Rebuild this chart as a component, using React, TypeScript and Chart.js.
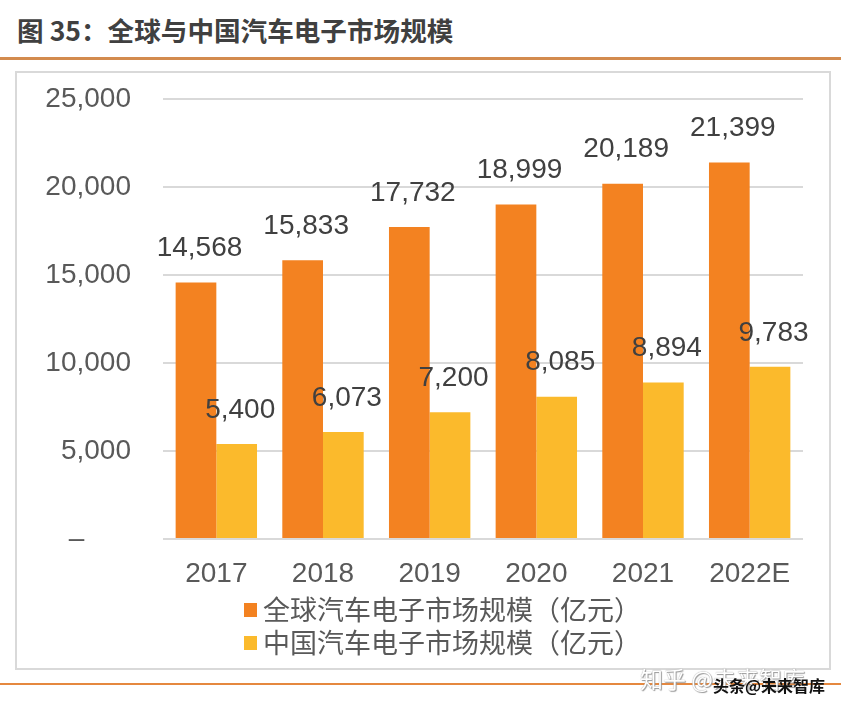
import React, { useEffect, useRef } from "react";
import { Chart, registerables } from "chart.js";

Chart.register(...registerables);

const categories = ["2017", "2018", "2019", "2020", "2021", "2022E"];
const globalValues = [14568, 15833, 17732, 18999, 20189, 21399];
const chinaValues = [5400, 6073, 7200, 8085, 8894, 9783];
const seriesNames = ["全球汽车电子市场规模（亿元）", "中国汽车电子市场规模（亿元）"];
const yTicks = [0, 5000, 10000, 15000, 20000, 25000];
const titleText = "图 35：全球与中国汽车电子市场规模";
const colors = ["#F38221", "#FBBA2C"];

const NUM_FONT = "'Liberation Sans', Arial, sans-serif";
const CJK_FONT = "'Noto Sans CJK SC', 'Noto Sans', sans-serif";

const fmt = (v: number) => v.toLocaleString("en-US");

const valueLabels = {
  id: "valueLabels",
  afterDatasetsDraw(chart: any) {
    const ctx = chart.ctx;
    ctx.save();
    ctx.font = `28px ${NUM_FONT}`;
    ctx.fillStyle = "#404040";
    ctx.textAlign = "center";
    ctx.textBaseline = "middle";
    chart.data.datasets.forEach((ds: any, i: number) => {
      const meta = chart.getDatasetMeta(i);
      meta.data.forEach((bar: any, j: number) => {
        ctx.fillText(fmt(ds.data[j]), bar.x + 3.5, bar.y - 34);
      });
    });
    ctx.restore();
  },
};

const customLegend = {
  id: "customLegend",
  afterDraw(chart: any) {
    const ctx = chart.ctx;
    ctx.save();
    ctx.font = `27px ${CJK_FONT}`;
    ctx.textAlign = "left";
    ctx.textBaseline = "middle";
    chart.data.datasets.forEach((ds: any, i: number) => {
      const cy = 610 + i * 33;
      ctx.fillStyle = ds.backgroundColor;
      ctx.fillRect(244, cy - 7, 13, 14);
      ctx.fillStyle = "#595959";
      ctx.fillText(ds.label, 263, cy);
    });
    ctx.restore();
  },
};

export default function App() {
  const ref = useRef<HTMLCanvasElement | null>(null);

  useEffect(() => {
    document.body.style.margin = "0";
    if (!ref.current) return;
    const chart = new Chart(ref.current, {
      type: "bar",
      data: {
        labels: categories,
        datasets: [
          {
            label: seriesNames[0],
            data: globalValues,
            backgroundColor: colors[0],
            categoryPercentage: 0.763,
            barPercentage: 1,
          },
          {
            label: seriesNames[1],
            data: chinaValues,
            backgroundColor: colors[1],
            categoryPercentage: 0.763,
            barPercentage: 1,
          },
        ],
      },
      options: {
        animation: false,
        responsive: false,
        maintainAspectRatio: false,
        layout: { padding: { left: 0, right: 38, top: 99, bottom: 117 } },
        plugins: {
          legend: { display: false },
          tooltip: { enabled: false },
          title: { display: false },
        },
        scales: {
          x: {
            grid: { display: false },
            border: { display: false },
            ticks: {
              color: "#595959",
              font: { family: NUM_FONT, size: 28 },
              padding: 10,
              maxRotation: 0,
            },
            afterFit(scale: any) {
              scale.height = 60;
            },
          },
          y: {
            min: 0,
            max: 25000,
            afterBuildTicks(scale: any) {
              scale.ticks = yTicks.map((v) => ({ value: v }));
            },
            grid: { color: "#D9D9D9", lineWidth: 2, drawTicks: false },
            border: { display: false },
            ticks: {
              color: "#595959",
              font: { family: NUM_FONT, size: 28 },
              padding: 32,
              callback: (v: any) => (Number(v) === 0 ? "–      " : fmt(Number(v))),
            },
            afterFit(scale: any) {
              scale.width = 163;
            },
          },
        },
      },
      plugins: [valueLabels, customLegend],
    });
    return () => chart.destroy();
  }, []);

  return (
    <div style={{ position: "relative", width: 841, height: 716, background: "#fff", overflow: "hidden" }}>
      <div
        style={{
          position: "absolute",
          left: 17,
          top: 13,
          fontFamily: CJK_FONT,
          fontWeight: 700,
          fontSize: 26.6,
          lineHeight: "34px",
          color: "#404040",
          whiteSpace: "nowrap",
        }}
      >
        {titleText}
      </div>
      <div style={{ position: "absolute", left: 0, top: 57, width: 841, height: 3, background: "#D38B4E" }} />
      <div
        style={{
          position: "absolute",
          left: 15,
          top: 71,
          width: 812,
          height: 595,
          border: "2px solid #D9D9D9",
        }}
      />
      <div style={{ position: "absolute", left: 0, top: 683, width: 841, height: 2, background: "#E5883F" }} />
      <canvas ref={ref} width={841} height={716} style={{ position: "absolute", left: 0, top: 0, width: 841, height: 716 }} />
      <div
        style={{
          position: "absolute",
          left: 640,
          top: 663,
          fontFamily: CJK_FONT,
          fontSize: 23,
          lineHeight: "30px",
          color: "#ffffff",
          textShadow: "0 0 1px #888, 1px 1px 1px #999",
          whiteSpace: "nowrap",
        }}
      >
        知乎 @未来智库
      </div>
      <div
        style={{
          position: "absolute",
          left: 713,
          top: 674,
          fontFamily: CJK_FONT,
          fontSize: 16,
          fontWeight: 700,
          lineHeight: "22px",
          color: "#111",
          whiteSpace: "nowrap",
        }}
      >
        头条@未来智库
      </div>
    </div>
  );
}
